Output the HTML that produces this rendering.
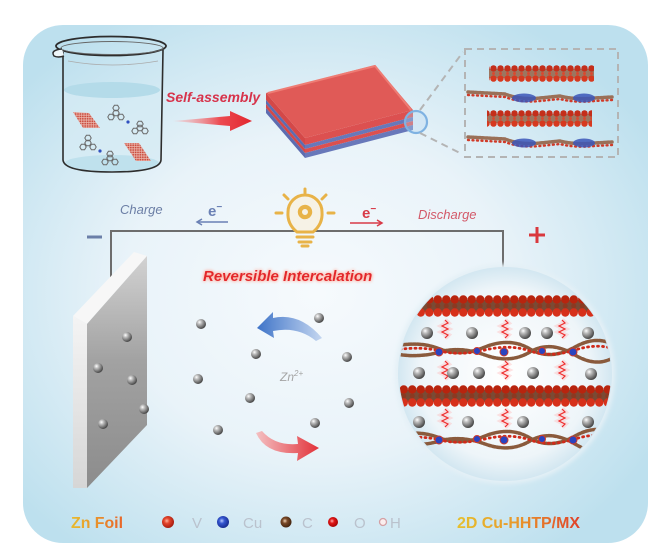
<!DOCTYPE html>
<html><head><meta charset="utf-8"><style>
html,body{margin:0;padding:0;background:#fff;width:667px;height:559px;overflow:hidden}
svg{display:block}
text{font-family:"Liberation Sans",Arial,sans-serif}
</style></head><body>
<svg width="667" height="559" viewBox="0 0 667 559" xmlns="http://www.w3.org/2000/svg">
<defs>
 <radialGradient id="bg" cx="47%" cy="52%" r="62%">
  <stop offset="0" stop-color="#f6fafd"/>
  <stop offset="0.5" stop-color="#e9f3f9"/>
  <stop offset="1" stop-color="#bde0ee"/>
 </radialGradient>
 <radialGradient id="zn" cx="35%" cy="32%" r="70%">
  <stop offset="0" stop-color="#ffffff"/>
  <stop offset="0.3" stop-color="#bdbdbd"/>
  <stop offset="1" stop-color="#444"/>
 </radialGradient>
 <radialGradient id="vball" cx="40%" cy="40%" r="65%">
  <stop offset="0" stop-color="#ffb29a"/>
  <stop offset="0.35" stop-color="#e4452c"/>
  <stop offset="1" stop-color="#a0180c"/>
 </radialGradient>
 <radialGradient id="cuball" cx="40%" cy="40%" r="65%">
  <stop offset="0" stop-color="#b9c8ff"/>
  <stop offset="0.35" stop-color="#3556d0"/>
  <stop offset="1" stop-color="#16288a"/>
 </radialGradient>
 <radialGradient id="cball" cx="40%" cy="40%" r="65%">
  <stop offset="0" stop-color="#f0d2b4"/>
  <stop offset="0.35" stop-color="#7a4a28"/>
  <stop offset="1" stop-color="#3d200c"/>
 </radialGradient>
 <radialGradient id="oball" cx="40%" cy="40%" r="65%">
  <stop offset="0" stop-color="#ffb0b0"/>
  <stop offset="0.35" stop-color="#e01818"/>
  <stop offset="1" stop-color="#a00000"/>
 </radialGradient>
 <radialGradient id="circ" cx="50%" cy="50%" r="50%">
  <stop offset="0" stop-color="#ffffff"/>
  <stop offset="0.8" stop-color="#eef5f9"/>
  <stop offset="1" stop-color="#d3e7f1"/>
 </radialGradient>
 <linearGradient id="plate" x1="0" y1="0" x2="0" y2="1">
  <stop offset="0" stop-color="#d2d2d2"/>
  <stop offset="0.45" stop-color="#a2a2a2"/>
  <stop offset="1" stop-color="#8c8c8c"/>
 </linearGradient>
 <linearGradient id="plateside" x1="0" y1="0" x2="0" y2="1">
  <stop offset="0" stop-color="#f4f4f4"/>
  <stop offset="1" stop-color="#d6d6d6"/>
 </linearGradient>
 <linearGradient id="redarrow" x1="0" y1="0" x2="1" y2="0">
  <stop offset="0" stop-color="#f6c0c4" stop-opacity="0.4"/>
  <stop offset="0.6" stop-color="#ec4a50"/>
  <stop offset="1" stop-color="#e2262e"/>
 </linearGradient>
 <linearGradient id="bluecurve" x1="1" y1="0" x2="0" y2="0">
  <stop offset="0" stop-color="#c4d6f0"/>
  <stop offset="1" stop-color="#3f74c8"/>
 </linearGradient>
 <linearGradient id="redcurve" x1="0" y1="0" x2="1" y2="0">
  <stop offset="0" stop-color="#f4c0c2"/>
  <stop offset="1" stop-color="#e2323a"/>
 </linearGradient>
 <linearGradient id="gold" x1="0" y1="0" x2="1" y2="0">
  <stop offset="0" stop-color="#e8bc2e"/>
  <stop offset="1" stop-color="#e8652a"/>
 </linearGradient>
 <linearGradient id="gold2" x1="0" y1="0" x2="1" y2="0">
  <stop offset="0" stop-color="#e6c02e"/>
  <stop offset="0.5" stop-color="#e8962a"/>
  <stop offset="1" stop-color="#e0402a"/>
 </linearGradient>
 <pattern id="gr" width="2.4" height="2.4" patternUnits="userSpaceOnUse">
  <rect width="2.4" height="2.4" fill="#eab0a6"/>
  <circle cx="1.2" cy="1.2" r="0.9" fill="#c8483a"/>
 </pattern>
 <pattern id="voxS" x="0" y="65" width="7" height="45" patternUnits="userSpaceOnUse">
  <rect x="0" y="4" width="7" height="9" fill="#9c7660"/>
  <circle cx="3.5" cy="3.4" r="3.2" fill="#c42e1a"/>
  <circle cx="3.5" cy="8.5" r="1.5" fill="#d84a30"/>
  <circle cx="3.5" cy="13.6" r="3.2" fill="#d6391f"/>
 </pattern>
 <pattern id="voxL" x="0" y="295" width="8.5" height="90" patternUnits="userSpaceOnUse">
  <rect x="0" y="5" width="8.5" height="12" fill="#7a4a34"/>
  <circle cx="4.25" cy="4.5" r="4.2" fill="#b8240e"/>
  <circle cx="4.25" cy="11" r="2.6" fill="#8a3a22"/>
  <circle cx="4.25" cy="17.5" r="4.2" fill="#d6301a"/>
 </pattern>
 <path id="hx" d="M3.2,0 L1.6,2.8 L-1.6,2.8 L-3.2,0 L-1.6,-2.8 L1.6,-2.8 Z" fill="none" stroke="#6a6a6a" stroke-width="1"/>
 <clipPath id="cc"><circle cx="505" cy="374" r="106"/></clipPath>
 <filter id="glow" x="-20%" y="-50%" width="140%" height="200%">
  <feGaussianBlur in="SourceAlpha" stdDeviation="1.6" result="b"/>
  <feFlood flood-color="#ffb0a0"/>
  <feComposite in2="b" operator="in" result="g"/>
  <feMerge><feMergeNode in="g"/><feMergeNode in="g"/><feMergeNode in="SourceGraphic"/></feMerge>
 </filter>
 <filter id="soft" x="-50%" y="-50%" width="200%" height="200%">
  <feGaussianBlur stdDeviation="2"/>
 </filter>
</defs>

<!-- panel -->
<rect x="23" y="25" width="625" height="518" rx="40" ry="40" fill="url(#bg)"/>

<!-- beaker -->
<path d="M64,90 L64,160 Q64,171 112,171 Q160,171 160,160 L161,90 Z" fill="#d5ebf3" opacity="0.7"/>
<ellipse cx="112" cy="163" rx="47" ry="8" fill="#bfe1ed"/>
<ellipse cx="112" cy="90" rx="48" ry="8" fill="#b4dbe9"/>
<path d="M63,52 L63,160 Q64,172 112,172 Q160,172 161,160 L163,50" fill="none" stroke="#2d2d2d" stroke-width="1.6"/>
<path d="M68,61 Q112,69 158,61" fill="none" stroke="#aaa" stroke-width="0.8"/>
<ellipse cx="111" cy="46" rx="55" ry="9.5" fill="none" stroke="#2d2d2d" stroke-width="1.8"/>
<ellipse cx="112" cy="48" rx="51" ry="6.5" fill="none" stroke="#666" stroke-width="0.9"/>
<path d="M62,49 Q50,50 54,56 Q58,58 64,56" fill="#eef6f9" stroke="#2d2d2d" stroke-width="1.5"/>
<!-- graphene sheets -->
<polygon points="73,112 89,113 100,128 83,128" fill="url(#gr)"/>
<polygon points="124,143 139,143 151,161 136,161" fill="url(#gr)"/>
<!-- molecules -->
<g>
 <use href="#hx" x="116" y="108"/><use href="#hx" x="111" y="117"/><use href="#hx" x="121" y="117"/><use href="#hx" x="116" y="113"/>
 <circle cx="128" cy="122" r="1.6" fill="#3050c0"/>
 <use href="#hx" x="140" y="124"/><use href="#hx" x="135" y="131"/><use href="#hx" x="145" y="131"/><use href="#hx" x="140" y="128"/>
 <use href="#hx" x="88" y="138"/><use href="#hx" x="83" y="147"/><use href="#hx" x="93" y="147"/><use href="#hx" x="88" y="143"/>
 <circle cx="100" cy="151" r="1.6" fill="#3050c0"/>
 <use href="#hx" x="110" y="154"/><use href="#hx" x="105" y="162"/><use href="#hx" x="115" y="162"/><use href="#hx" x="110" y="158"/>
</g>

<!-- self-assembly -->
<text x="166" y="102" font-size="14" font-weight="bold" font-style="italic" fill="#d7334b">Self-assembly</text>
<polygon points="173,121 230,116 230,111 252,121 230,131 230,126" fill="url(#redarrow)"/>

<!-- slab -->
<polygon points="266,93 305,138 305,145 266,100" fill="#d44848"/>
<polygon points="266,100 305,145 305,149 266,104" fill="#5d6cb0"/>
<polygon points="266,104 305,149 305,153 266,108" fill="#d44848"/>
<polygon points="266,108 305,153 305,158 266,113" fill="#5d6cb0"/>
<polygon points="305,138 413,110 413,117 305,145" fill="#dc5050"/>
<polygon points="305,145 413,117 413,121 305,149" fill="#6878ba"/>
<polygon points="305,149 413,121 413,125 305,153" fill="#dc5050"/>
<polygon points="305,153 413,125 413,130 305,158" fill="#6878ba"/>
<polygon points="266,93 375,65 413,110 305,138" fill="#e05a57"/>
<polyline points="268,93 375,66 411,110" fill="none" stroke="#ee7c74" stroke-width="2"/>
<circle cx="416" cy="122" r="11" fill="#b8d6f2" fill-opacity="0.35" stroke="#7fb2e2" stroke-width="2.2"/>
<!-- zoom lines -->
<g stroke="#b4b4b4" stroke-width="2" fill="none" stroke-dasharray="7 5">
 <line x1="420" y1="110" x2="463" y2="52"/>
 <line x1="420" y1="133" x2="460" y2="153"/>
 <rect x="465" y="49" width="153" height="108"/>
</g>
<!-- box contents -->
<rect x="489" y="65" width="105" height="17" fill="url(#voxS)"/>
<rect x="487" y="110" width="105" height="17" fill="url(#voxS)"/>
<g fill="none" stroke-linecap="round">
 <path d="M468,92 L505,94 Q520,100 540,98 L560,96 Q575,100 595,98 L612,97" stroke="#9a7058" stroke-width="3.5" stroke-dasharray="2 1.5"/>
 <path d="M468,95 L505,97 Q520,103 540,101 L560,99 Q575,103 595,101 L612,100" stroke="#d03a28" stroke-width="2.4" stroke-dasharray="1 3.5"/>
 <path d="M468,137 L505,139 Q520,145 540,143 L560,141 Q575,145 595,143 L612,142" stroke="#9a7058" stroke-width="3.5" stroke-dasharray="2 1.5"/>
 <path d="M468,140 L505,142 Q520,148 540,146 L560,144 Q575,148 595,146 L612,145" stroke="#d03a28" stroke-width="2.4" stroke-dasharray="1 3.5"/>
</g>
<ellipse cx="524" cy="98" rx="12" ry="4.5" fill="#3b56b8" opacity="0.85"/>
<ellipse cx="584" cy="98" rx="11" ry="4.5" fill="#3b56b8" opacity="0.85"/>
<ellipse cx="524" cy="143" rx="12" ry="4.5" fill="#3b56b8" opacity="0.85"/>
<ellipse cx="584" cy="143" rx="11" ry="4.5" fill="#3b56b8" opacity="0.85"/>

<!-- circuit -->
<path d="M111,278 L111,231 L503,231 L503,268" fill="none" stroke="#6d6d6d" stroke-width="2"/>
<line x1="87" y1="237" x2="102" y2="237" stroke="#6b7fa8" stroke-width="3"/>
<g stroke="#d9383d" stroke-width="3"><line x1="529" y1="235" x2="545" y2="235"/><line x1="537" y1="227" x2="537" y2="243"/></g>
<text x="120" y="214" font-size="13" font-style="italic" fill="#6c7fa6">Charge</text>
<text x="208" y="216" font-size="15" font-weight="bold" fill="#6a80b4">e<tspan font-size="10" dy="-6">−</tspan></text>
<g stroke="#6a80b4" stroke-width="1.5" fill="none"><line x1="228" y1="222" x2="198" y2="222"/><polyline points="202,219 197,222 202,225"/></g>
<text x="362" y="218" font-size="15" font-weight="bold" fill="#d83a48">e<tspan font-size="10" dy="-6">−</tspan></text>
<g stroke="#d83a48" stroke-width="1.5" fill="none"><line x1="350" y1="223" x2="381" y2="223"/><polyline points="377,220 382,223 377,226"/></g>
<text x="418" y="219" font-size="13" font-style="italic" fill="#d35a6a">Discharge</text>
<!-- bulb -->
<g stroke="#e8b348" fill="none" stroke-linecap="round">
 <path d="M297,232 Q287,224 288,212 A17,17 0 1 1 322,212 Q323,224 313,232 Z" fill="#f6f2e6" stroke-width="3"/>
 <line x1="297" y1="237" x2="313" y2="237" stroke-width="3"/>
 <line x1="299" y1="242" x2="311" y2="242" stroke-width="3"/>
 <line x1="302" y1="246" x2="308" y2="246" stroke-width="3"/>
 <line x1="276" y1="213" x2="282" y2="213" stroke-width="3"/>
 <line x1="328" y1="213" x2="334" y2="213" stroke-width="3"/>
 <line x1="305" y1="189" x2="305" y2="193" stroke-width="3"/>
 <line x1="284" y1="195" x2="288" y2="199" stroke-width="3"/>
 <line x1="326" y1="195" x2="322" y2="199" stroke-width="3"/>
 <circle cx="305" cy="212" r="5.5" stroke-width="3.5" stroke-dasharray="2.6 1.7"/>
 <circle cx="305" cy="212" r="4" stroke-width="2"/>
</g>

<!-- Reversible Intercalation -->
<text x="203" y="281" font-size="15" font-weight="bold" font-style="italic" fill="#e3262a" filter="url(#glow)">Reversible Intercalation</text>

<!-- Zn foil -->
<polygon points="73,316 134,252 147,256 87,324" fill="#f7f7f7"/>
<polygon points="73,316 87,324 87,488 73,488" fill="url(#plateside)"/>
<polygon points="87,324 147,256 147,425 87,488" fill="url(#plate)"/>
<g fill="url(#zn)">
 <circle cx="127" cy="337" r="5"/><circle cx="98" cy="368" r="5"/><circle cx="132" cy="380" r="5"/>
 <circle cx="144" cy="409" r="5"/><circle cx="103" cy="424" r="5"/>
 <circle cx="201" cy="324" r="5"/><circle cx="319" cy="318" r="5"/><circle cx="256" cy="354" r="5"/>
 <circle cx="347" cy="357" r="5"/><circle cx="198" cy="379" r="5"/><circle cx="250" cy="398" r="5"/>
 <circle cx="349" cy="403" r="5"/><circle cx="315" cy="423" r="5"/><circle cx="218" cy="430" r="5"/>
</g>
<text x="280" y="381" font-size="12" font-style="italic" fill="#a4a4a4">Zn<tspan font-size="8" dy="-5">2+</tspan></text>
<path d="M322,338 Q300,312 273,318 L273,312 L257,328 L274,338 L273,331 Q298,326 316,341 Z" fill="url(#bluecurve)"/>
<path d="M256,433 Q266,455 298,453 L297,461 L319,448 L297,436 L298,444 Q275,446 262,431 Z" fill="url(#redcurve)"/>

<!-- big circle -->
<circle cx="505" cy="374" r="110" fill="#e4f0f6" filter="url(#soft)"/>
<circle cx="505" cy="374" r="107" fill="url(#circ)"/>
<g clip-path="url(#cc)">
 <rect x="417" y="295" width="178" height="22" fill="url(#voxL)"/>
 <rect x="390" y="385" width="232" height="22" fill="url(#voxL)"/>
 <g fill="none" stroke-linecap="round">
  <path d="M395,346 Q420,341 440,349 T485,347 T530,349 T575,347 T620,349" stroke="#8a5a3c" stroke-width="3.5" stroke-dasharray="3 1.5"/>
  <path d="M395,354 Q420,358 440,352 T485,355 T530,352 T575,355 T620,353" stroke="#8a5a3c" stroke-width="3.5" stroke-dasharray="3 1.5"/>
  <path d="M395,350 Q420,346 440,351 T485,350 T530,351 T575,350 T620,351" stroke="#d02a1a" stroke-width="2.8" stroke-dasharray="1 4"/>
  <path d="M395,435 Q420,430 440,438 T485,436 T530,438 T575,436 T620,438" stroke="#8a5a3c" stroke-width="3.5" stroke-dasharray="3 1.5"/>
  <path d="M395,443 Q420,447 440,441 T485,444 T530,441 T575,444 T620,442" stroke="#8a5a3c" stroke-width="3.5" stroke-dasharray="3 1.5"/>
  <path d="M395,439 Q420,435 440,440 T485,439 T530,440 T575,439 T620,440" stroke="#d02a1a" stroke-width="2.8" stroke-dasharray="1 4"/>
 </g>
 <g fill="#2a44c0" stroke="#d03a2a" stroke-width="1">
  <circle cx="439" cy="352" r="4"/><circle cx="477" cy="351" r="3.5"/><circle cx="504" cy="352" r="4"/><circle cx="542" cy="351" r="3.5"/><circle cx="573" cy="352" r="4"/>
  <circle cx="439" cy="440" r="4"/><circle cx="477" cy="439" r="3.5"/><circle cx="504" cy="440" r="4"/><circle cx="542" cy="439" r="3.5"/><circle cx="573" cy="440" r="4"/>
 </g>
 <g fill="none">
  <g stroke="#ffb0b0" stroke-width="5" opacity="0.35">
   <path d="M445,320 l3,3 l-6,3 l6,3 l-6,3 l6,3 l-3,3"/><path d="M505,320 l3,3 l-6,3 l6,3 l-6,3 l6,3 l-3,3"/><path d="M562,320 l3,3 l-6,3 l6,3 l-6,3 l6,3 l-3,3"/>
   <path d="M445,361 l3,3 l-6,3 l6,3 l-6,3 l6,3 l-3,3"/><path d="M505,361 l3,3 l-6,3 l6,3 l-6,3 l6,3 l-3,3"/><path d="M562,361 l3,3 l-6,3 l6,3 l-6,3 l6,3 l-3,3"/>
   <path d="M445,409 l3,3 l-6,3 l6,3 l-6,3 l6,3 l-3,3"/><path d="M505,409 l3,3 l-6,3 l6,3 l-6,3 l6,3 l-3,3"/><path d="M562,409 l3,3 l-6,3 l6,3 l-6,3 l6,3 l-3,3"/>
  </g>
  <g stroke="#ee2e2e" stroke-width="1.2">
   <path d="M445,320 l3,3 l-6,3 l6,3 l-6,3 l6,3 l-3,3"/><path d="M505,320 l3,3 l-6,3 l6,3 l-6,3 l6,3 l-3,3"/><path d="M562,320 l3,3 l-6,3 l6,3 l-6,3 l6,3 l-3,3"/>
   <path d="M445,361 l3,3 l-6,3 l6,3 l-6,3 l6,3 l-3,3"/><path d="M505,361 l3,3 l-6,3 l6,3 l-6,3 l6,3 l-3,3"/><path d="M562,361 l3,3 l-6,3 l6,3 l-6,3 l6,3 l-3,3"/>
   <path d="M445,409 l3,3 l-6,3 l6,3 l-6,3 l6,3 l-3,3"/><path d="M505,409 l3,3 l-6,3 l6,3 l-6,3 l6,3 l-3,3"/><path d="M562,409 l3,3 l-6,3 l6,3 l-6,3 l6,3 l-3,3"/>
  </g>
 </g>
 <g fill="url(#zn)">
  <circle cx="427" cy="333" r="6"/><circle cx="472" cy="333" r="6"/><circle cx="525" cy="333" r="6"/><circle cx="547" cy="333" r="6"/><circle cx="588" cy="333" r="6"/>
  <circle cx="419" cy="373" r="6"/><circle cx="453" cy="373" r="6"/><circle cx="479" cy="373" r="6"/><circle cx="533" cy="373" r="6"/><circle cx="591" cy="374" r="6"/>
  <circle cx="419" cy="422" r="6"/><circle cx="468" cy="422" r="6"/><circle cx="523" cy="422" r="6"/><circle cx="588" cy="422" r="6"/>
 </g>
</g>

<!-- legend -->
<text x="71" y="528" font-size="16" font-weight="bold" fill="url(#gold)" textLength="52" lengthAdjust="spacingAndGlyphs">Zn Foil</text>
<circle cx="168" cy="522" r="6" fill="url(#vball)"/>
<text x="192" y="528" font-size="15" fill="#bac2cd">V</text>
<circle cx="223" cy="522" r="6" fill="url(#cuball)"/>
<text x="243" y="528" font-size="15" fill="#bac2cd">Cu</text>
<circle cx="286" cy="522" r="5.5" fill="url(#cball)"/>
<text x="302" y="528" font-size="15" fill="#bac2cd">C</text>
<circle cx="333" cy="522" r="5" fill="url(#oball)"/>
<text x="354" y="528" font-size="15" fill="#bac2cd">O</text>
<circle cx="383" cy="522" r="3.5" fill="#fbeeee" stroke="#d4a0a4" stroke-width="1.3"/>
<text x="390" y="528" font-size="15" fill="#bac2cd">H</text>
<text x="457" y="528" font-size="16" font-weight="bold" fill="url(#gold2)" textLength="123" lengthAdjust="spacingAndGlyphs">2D Cu-HHTP/MX</text>
</svg>
</body></html>
